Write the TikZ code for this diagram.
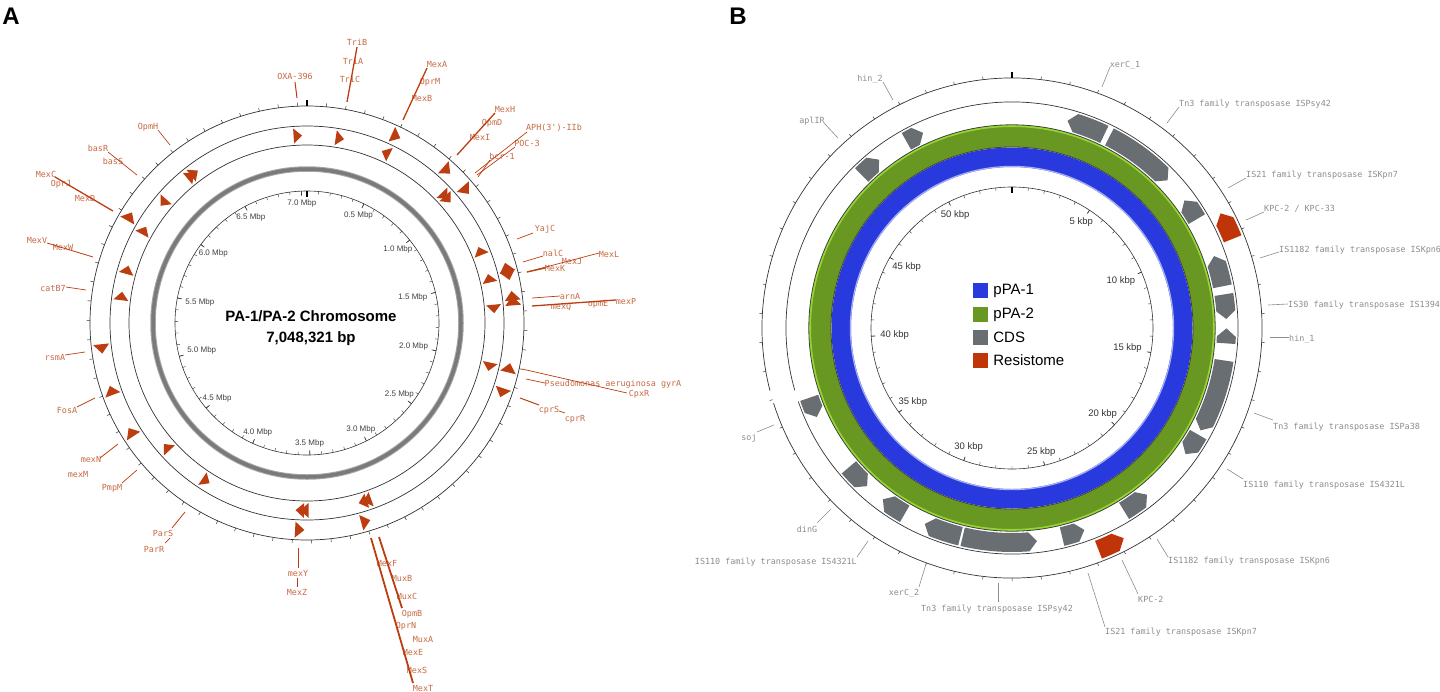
\documentclass[tikz,border=0pt]{standalone}
\usepackage{fontspec}
\setmainfont{Liberation Sans}
\setmonofont{DejaVu Sans Mono}
\usetikzlibrary{positioning}

\definecolor{featA}{RGB}{188,62,16}
\definecolor{textA}{RGB}{198,104,66}
\definecolor{pblue}{RGB}{40,58,222}
\definecolor{pgreen}{RGB}{104,152,34}
\definecolor{plight}{RGB}{150,214,50}
\definecolor{cdsgray}{RGB}{104,110,114}
\definecolor{resred}{RGB}{192,52,10}
\definecolor{textB}{RGB}{140,140,140}

\tikzset{
  genea/.style={font=\ttfamily\fontsize{8.4}{9}\selectfont, text=textA, inner sep=0pt},
  geneb/.style={font=\ttfamily\fontsize{8.4}{9}\selectfont, text=textB, inner sep=0pt},
  leada/.style={featA, line width=1pt},
  leadb/.style={textB, line width=0.6pt},
  scalelab/.style={font=\fontsize{8}{9}\selectfont, text=black!75, inner sep=1pt},
  scalelabb/.style={font=\fontsize{9.5}{11}\selectfont, text=black!80, inner sep=1pt},
  legsq/.style={minimum size=15pt, inner sep=0pt},
  legtxt/.style={font=\fontsize{15}{17}\selectfont, inner sep=0pt},
}

% CDS / resistome block: tail angle, tip angle, inner r, outer r, style
\newcommand{\cdsshape}[5]{%
  \pgfmathsetmacro{\cdsneck}{#2-2.2*sign(#2-#1)}%
  \pgfmathsetmacro{\cdsmid}{(#3+#4)/2}%
  \fill[#5] (#1:#3) arc[start angle=#1, end angle=\cdsneck, radius=#3]
    -- (#2:\cdsmid) -- (\cdsneck:#4) arc[start angle=\cdsneck, end angle=#1, radius=#4] -- cycle;}

\begin{document}
\begin{tikzpicture}[x=1pt,y=-1pt]
\useasboundingbox (0,0) rectangle (1440,691);

% Panel letters
\node[font=\bfseries\fontsize{24}{24}\selectfont] (pana) at (11,16) {A};
\node[font=\bfseries\fontsize{24}{24}\selectfont] (panb) at (738,16) {B};

%%%%%%%%%%%%%%%% Panel A %%%%%%%%%%%%%%%%
\begin{scope}[shift={(307,323)},x=1pt,y=1pt]
  % Rings
  \draw[black!80,line width=0.7pt] (0,0) circle (217) (0,0) circle (197) (0,0) circle (178);
  \draw[black!35,line width=5.5pt] (0,0) circle (154);
  \draw[black!52,line width=3.5pt] (0,0) circle (154);
  \draw[black!80,line width=0.6pt] (0,0) circle (132);

  % Outer ticks, every 100 kbp
  \foreach \i in {0,...,70}
    \draw[black!80,line width=0.5pt] ({90-\i*5.1077}:217) -- ({90-\i*5.1077}:220.5);
  \draw[line width=1.2pt] (90:217) -- (90:223);

  % Scale ticks
  \foreach \i in {0,...,70}
    \draw[black!80,line width=0.4pt] ({90-\i*5.1077}:132) -- ({90-\i*5.1077}:129);
  \draw[line width=1.2pt] (90:132) -- (90:126.5);
  \foreach \v [evaluate=\v as \ang using 90-\v*51.077] in {0.5,1.0,1.5,2.0,2.5,3.0,3.5,4.0,4.5,5.0,5.5,6.0,6.5,7.0} {
    \draw[black!80,line width=0.6pt] (\ang:132) -- (\ang:127.5);
    \node[scalelab,anchor=\ang] at (\ang:125) {\v\ Mbp};
  }

  % Resistance genes (strand arrows)
  \foreach \a/\ri/\ro/\d in {92.8/180/195/1, 79.9/180/195/1, 64.5/199/215/1, 65.2/180/195/-1,
      47.5/199/215/1, 42.7/180/195/1, 41.3/180/195/1, 39.9/199/215/1, 22.6/180/195/-1,
      15.6/199/215/-1, 13.8/180/195/-1, 13.3/199/215/1, 7.6/199/215/-1, 6.2/199/215/-1,
      4.3/180/195/1, -13.5/180/195/1, -12.5/199/215/-1, -19.7/199/215/1,
      -71.3/180/195/1, -72.7/180/195/1, -73.5/199/215/-1, -90.8/180/195/1, -92.2/180/195/1,
      -92/199/215/-1, -122.6/180/195/-1, -138.5/180/195/1, -148.2/199/215/1, -161/199/215/1,
      -172.8/199/215/-1, 171.7/180/195/1, 163.5/180/195/1, 150.4/180/195/1, 149/199/215/1,
      140/180/195/-1, 128.3/180/195/1, 126.9/180/195/1}
    \fill[featA] ({\a+\d*1.3}:\ri) -- ({\a+\d*1.3}:\ro) -- ({\a-\d*1.3}:{(\ri+\ro)/2}) -- cycle;
\end{scope}

\node[font=\bfseries\fontsize{15}{18}\selectfont] (titlea) at (311,316) {PA-1/PA-2 Chromosome};
\node[font=\bfseries\fontsize{15}{18}\selectfont] (sizea) at (311,339) {7,048,321 bp};

% Gene labels, panel A
\node[genea] (trib) at (357,42) {TriB};
\node[genea] (tria) at (353,61) {TriA};
\node[genea] (tric) at (350,79) {TriC};
\node[genea] (oxa) at (295,76) {OXA-396};
\node[genea] (mexa) at (437,64) {MexA};
\node[genea] (oprm) at (430,82) {OprM};
\node[genea] (mexb) at (422,98) {MexB};
\node[genea] (mexh) at (505,109) {MexH};
\node[genea] (opmd) at (492,123) {OpmD};
\node[genea] (mexi) at (480,137) {MexI};
\node[genea] (aph) at (554,128) {APH(3')-IIb};
\node[genea] (poc) at (527,143) {POC-3};
\node[genea] (bcr) at (502,156) {bcr-1};
\node[genea] (yajc) at (545,229) {YajC};
\node[genea] (nalc) at (553,253) {nalC};
\node[genea] (mexl) at (609,254) {MexL};
\node[genea] (mexj) at (572,261) {MexJ};
\node[genea] (mexk) at (555,268) {MexK};
\node[genea] (arna) at (570,296) {arnA};
\node[genea] (mexq) at (561,307) {mexQ};
\node[genea] (opme) at (598,304) {opmE};
\node[genea] (mexp) at (626,301) {mexP};
\node[genea] (gyra) at (613,384) {Pseudomonas aeruginosa gyrA};
\node[genea] (cpxr) at (639,394) {CpxR};
\node[genea] (cprs) at (549,410) {cprS};
\node[genea] (cprr) at (575,419) {cprR};
\node[genea] (opmh) at (148,127) {OpmH};
\node[genea] (basr) at (98,148) {basR};
\node[genea] (bass) at (113,161) {basS};
\node[genea] (mexc) at (46,174) {MexC};
\node[genea] (oprj) at (61,184) {OprJ};
\node[genea] (mexd) at (85,198) {MexD};
\node[genea] (mexv) at (37,240) {MexV};
\node[genea] (mexw) at (63,247) {MexW};
\node[genea] (catb) at (53,288) {catB7};
\node[genea] (rsma) at (55,357) {rsmA};
\node[genea] (fosa) at (67,410) {FosA};
\node[genea] (mexn) at (91,459) {mexN};
\node[genea] (mexm) at (78,474) {mexM};
\node[genea] (pmpm) at (112,488) {PmpM};
\node[genea] (pars) at (163,533) {ParS};
\node[genea] (parr) at (154,549) {ParR};
\node[genea] (mexy) at (298,573) {mexY};
\node[genea] (mexz) at (297,592) {MexZ};
\node[genea] (mexf) at (387,563) {MexF};
\node[genea] (muxb) at (402,578) {MuxB};
\node[genea] (muxc) at (407,596) {MuxC};
\node[genea] (opmb) at (412,614) {OpmB};
\node[genea] (oprn) at (406,626) {OprN};
\node[genea] (muxa) at (423,639) {MuxA};
\node[genea] (mexe) at (413,652) {MexE};
\node[genea] (mexs) at (417,670) {MexS};
\node[genea] (mext) at (423,688) {MexT};

% Leader lines, panel A
\draw[leada] (295,82) -- (297,98);
\draw[leada,line width=1.3pt] (357,47) -- (347,102);
\draw[leada,line width=1.3pt] (427,68) -- (403,120);
\draw[leada,line width=1.3pt] (495,113) -- (457,155);
\draw[leada,line width=0.7pt] (527,132) -- (475,173);
\draw[leada,line width=0.7pt] (515,147) -- (477,175);
\draw[leada,line width=0.7pt] (490,160) -- (478,177);
\draw[leada,line width=0.7pt] (533,233) -- (517,239);
\draw[leada,line width=0.7pt] (543,256) -- (523,262);
\draw[leada,line width=0.7pt] (599,253) -- (527,272);
\draw[leada,line width=1.3pt] (545,268) -- (527,272);
\draw[leada,line width=0.7pt] (560,296) -- (532,298);
\draw[leada,line width=1.3pt] (616,300) -- (532,306);
\draw[leada,line width=0.7pt] (627,393) -- (522,369);
\draw[leada,line width=0.7pt] (545,383) -- (526,379);
\draw[leada,line width=1pt] (539,405) -- (520,398);
\draw[leada,line width=0.7pt] (565,413) -- (559,411);
\draw[leada,line width=0.7pt] (158,130) -- (170,145);
\draw[leada,line width=0.7pt] (108,152) -- (137,175);
\draw[leada,line width=1.3pt] (55,177) -- (113,211);
\draw[leada,line width=0.8pt] (47,243) -- (93,257);
\draw[leada,line width=0.7pt] (66,287) -- (86,290);
\draw[leada,line width=0.7pt] (65,355) -- (85,352);
\draw[leada,line width=0.7pt] (77,407) -- (95,398);
\draw[leada,line width=0.8pt] (100,458) -- (118,444);
\draw[leada,line width=0.7pt] (122,483) -- (137,470);
\draw[leada,line width=0.8pt] (172,528) -- (185,512);
\draw[leada,line width=0.7pt] (165,543) -- (170,538);
\draw[leada,line width=1pt] (298,548) -- (298,568);
\draw[leada,line width=0.7pt] (297,578) -- (297,587);
\draw[leada,line width=1.8pt] (371,538) -- (413,683);
\draw[leada,line width=1.8pt] (379,537) -- (402,608);

%%%%%%%%%%%%%%%% Panel B %%%%%%%%%%%%%%%%
\begin{scope}[shift={(1012,328)},x=1pt,y=1pt]
  % Plasmid rings
  \draw[pblue,line width=19.5pt] (0,0) circle (170.75);
  \draw[pblue!40!white,line width=1.2pt] (0,0) circle (161.6);
  \draw[pgreen,line width=22pt] (0,0) circle (192);
  \draw[plight,line width=2pt] (0,0) circle (202);
  \draw[black!75,line width=0.8pt] (0,0) circle (181) (0,0) circle (203.2);

  % Feature rings, broken near soj
  \draw[black!80,line width=0.7pt] (197.5:250) arc[start angle=197.5, end angle=554.5, radius=250];
  \draw[black!80,line width=0.7pt] (199:226) arc[start angle=199, end angle=556, radius=226];
  \foreach \i in {0,...,53}
    \draw[black!80,line width=0.5pt] ({90-\i*6.6667}:250) -- ({90-\i*6.6667}:253);
  \draw[line width=1.2pt] (90:250) -- (90:256);

  % Scale
  \draw[black!80,line width=0.6pt] (0,0) circle (141);
  \foreach \i in {0,...,53}
    \draw[black!80,line width=0.4pt] ({90-\i*6.6667}:141) -- ({90-\i*6.6667}:138);
  \draw[line width=1.2pt] (90:141) -- (90:135.5);
  \foreach \v [evaluate=\v as \ang using 90-\v*6.6667] in {5,10,...,50} {
    \draw[black!80,line width=0.6pt] (\ang:141) -- (\ang:137);
    \node[scalelabb,anchor=\ang] at (\ang:133) {\v\ kbp};
  }

  % CDS
  \foreach \s/\e in {134.5/128.3, 119.5/114.5, 64.5/75, 63/43.5, 30.5/36.5, 11.2/19.6,
      9/2.4, -4.1/-0.1, -8.7/-28.5, -29.8/-36, -58.5/-51, -76.5/-70.3, -103.3/-83.3,
      -103.9/-114, -120/-127, -139.5/-132.5, -161/-155.5}
    \cdsshape{\s}{\e}{205}{224}{cdsgray};

  % Resistome
  \cdsshape{22}{28.8}{228.5}{247.5}{resred}
  \cdsshape{-68.7}{-62}{228.5}{247.5}{resred}
\end{scope}

% Legend
\node[legsq,fill=pblue] (legone) at (980.5,290.5) {};
\node[legsq,fill=pgreen] (legtwo) at (980.5,314.5) {};
\node[legsq,fill=cdsgray] (legcds) at (980.5,337.5) {};
\node[legsq,fill=resred] (legres) at (980.5,360.5) {};
\node[legtxt,right=5pt of legone] (txtone) {pPA-1};
\node[legtxt,right=5pt of legtwo] (txttwo) {pPA-2};
\node[legtxt,right=5pt of legcds] (txtcds) {CDS};
\node[legtxt,right=5pt of legres] (txtres) {Resistome};

% Gene labels, panel B
\node[geneb] (hintwo) at (870,79) {hin\_2};
\node[geneb] (aplir) at (812,121) {aplIR};
\node[geneb] (xercone) at (1125,65) {xerC\_1};
\node[geneb,anchor=west] (tnsyone) at (1179,104) {Tn3 family transposase ISPsy42};
\node[geneb,anchor=west] (iskpnone) at (1246,175) {IS21 family transposase ISKpn7};
\node[geneb,anchor=west] (kpcone) at (1264,209) {KPC-2 / KPC-33};
\node[geneb,anchor=west] (isksixone) at (1279,250) {IS1182 family transposase ISKpn6};
\node[geneb,anchor=west] (isthirty) at (1288,305) {IS30 family transposase IS1394};
\node[geneb,anchor=west] (hinone) at (1289,339) {hin\_1};
\node[geneb,anchor=west] (tnpa) at (1273,427) {Tn3 family transposase ISPa38};
\node[geneb,anchor=west] (isoneten) at (1243,485) {IS110 family transposase IS4321L};
\node[geneb,anchor=west] (isksixtwo) at (1168,561) {IS1182 family transposase ISKpn6};
\node[geneb,anchor=west] (kpctwo) at (1138,599) {KPC-2};
\node[geneb,anchor=west] (iskpntwo) at (1105,632) {IS21 family transposase ISKpn7};
\node[geneb] (soj) at (749,438) {soj};
\node[geneb] (ding) at (807,529) {dinG};
\node[geneb,anchor=east] (isonetentwo) at (857,562) {IS110 family transposase IS4321L};
\node[geneb] (xerctwo) at (904,593) {xerC\_2};
\node[geneb] (tnsytwo) at (997,609) {Tn3 family transposase ISPsy42};

% Leader lines, panel B
\draw[leadb] (883,82) -- (893,100);
\draw[leadb] (824,123) -- (838,138);
\draw[leadb] (1110,67) -- (1102,87);
\draw[leadb] (1179,107) -- (1167,123);
\draw[leadb] (1246,178) -- (1228,188);
\draw[leadb] (1264,212) -- (1246,220);
\draw[leadb] (1279,252) -- (1260,258);
\draw[leadb] (1288,304) -- (1268,305);
\draw[leadb] (1289,337) -- (1270,337);
\draw[leadb] (1273,420) -- (1254,413);
\draw[leadb] (1243,479) -- (1227,469);
\draw[leadb] (1168,557) -- (1157,539);
\draw[leadb] (1138,594) -- (1122,560);
\draw[leadb] (1105,627) -- (1088,573);
\draw[leadb] (757,432) -- (774,425);
\draw[leadb] (817,523) -- (831,509);
\draw[leadb] (857,557) -- (868,541);
\draw[leadb] (919,587) -- (926,564);
\draw[leadb] (998,602) -- (998,583);

\end{tikzpicture}
\end{document}
